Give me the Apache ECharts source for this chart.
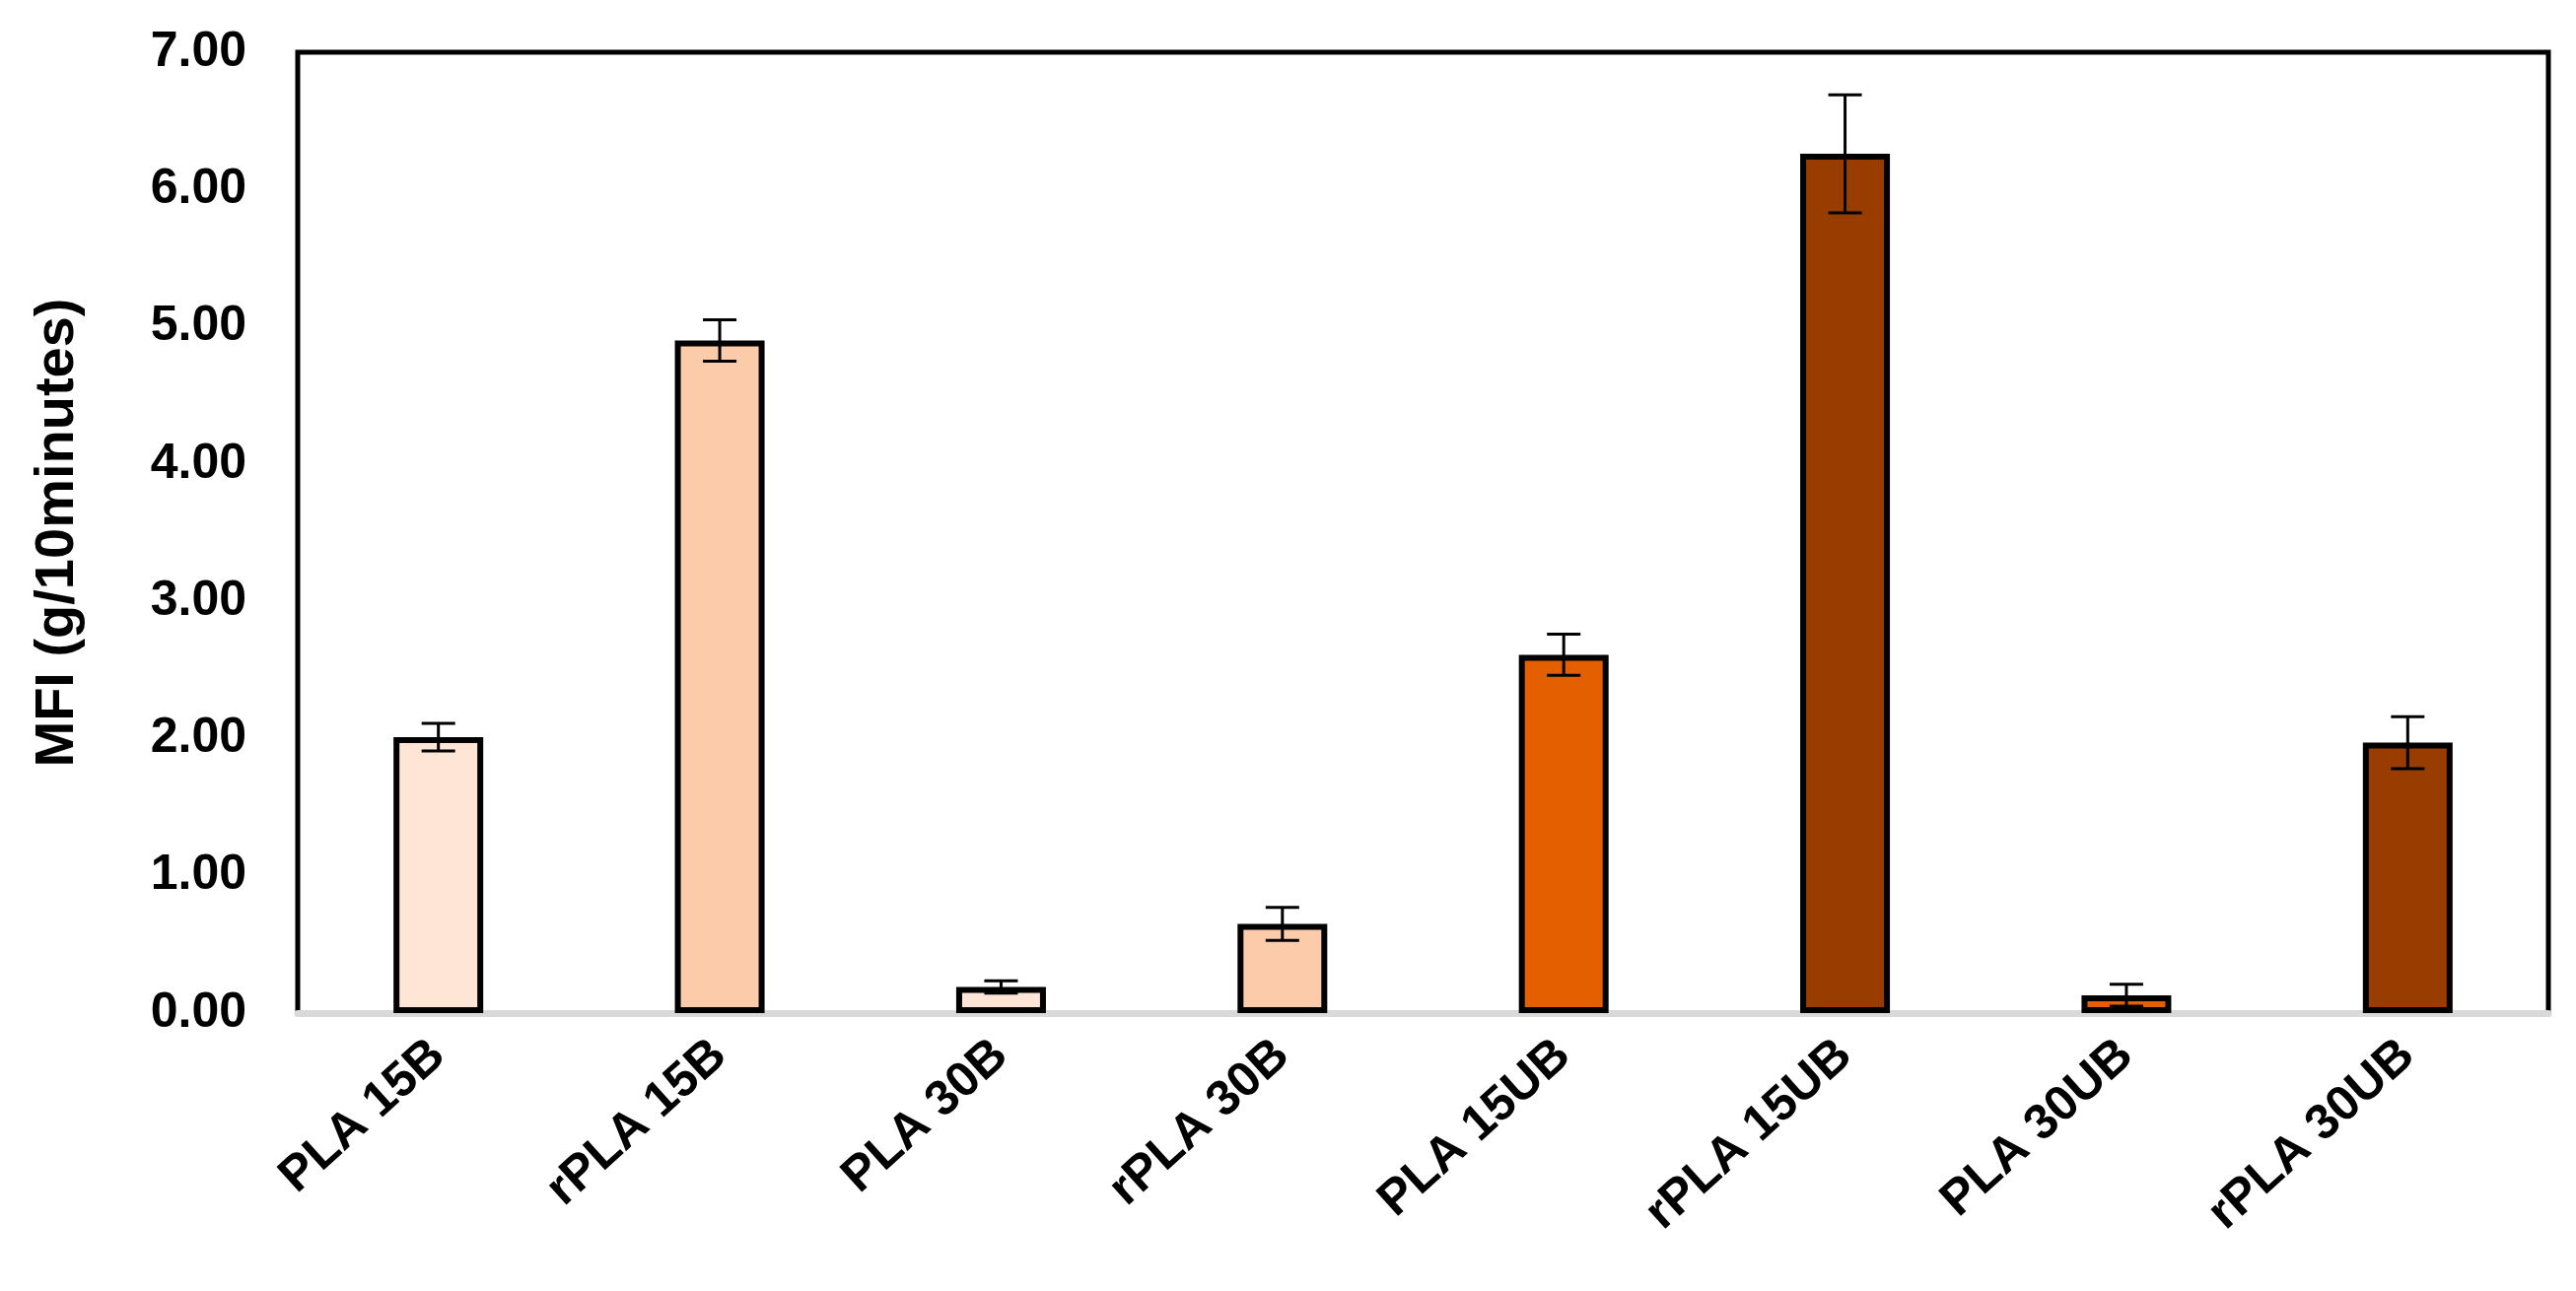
<!DOCTYPE html>
<html>
<head>
<meta charset="utf-8">
<script src="https://cdn.jsdelivr.net/npm/echarts@6/dist/echarts.min.js"></script>
<style>
html,body{margin:0;padding:0;background:#fff;}
#chart{width:2613px;height:1310px;}
</style>
</head>
<body>
<div id="chart"></div>
<script>
const categories = ['PLA 15B','rPLA 15B','PLA 30B','rPLA 30B','PLA 15UB','rPLA 15UB','PLA 30UB','rPLA 30UB'];
const values = [2.01, 4.90, 0.19, 0.65, 2.61, 6.26, 0.13, 1.97];
const errors = [0.10, 0.15, 0.045, 0.12, 0.15, 0.43, 0.08, 0.19];
const barColors = ['#FEE5D6','#FCCBA9','#FEE5D6','#FCCBA9','#E35F00','#983C00','#E35F00','#983C00'];
const yTicks = [0, 1, 2, 3, 4, 5, 6, 7];

const FONT = '"Liberation Sans", Arial, sans-serif';
const chart = echarts.init(document.getElementById('chart'));

const barData = values.map((v, i) => ({
  value: v,
  itemStyle: { color: barColors[i] }
}));
const errData = values.map((v, i) => [i, v - errors[i], v + errors[i]]);

chart.setOption({
  backgroundColor: '#fff',
  animation: false,
  grid: {
    left: 302, right: 28, top: 53, bottom: 282,
    show: true, borderColor: '#000', borderWidth: 5, backgroundColor: 'transparent'
  },
  xAxis: {
    type: 'category',
    data: categories,
    axisLine: { show: true, lineStyle: { color: '#D9D9D9', width: 7 } },
    axisTick: { show: false },
    axisLabel: {
      rotate: 42, margin: 36, color: '#000',
      fontFamily: FONT, fontWeight: 'bold', fontSize: 50
    }
  },
  yAxis: {
    type: 'value',
    min: yTicks[0], max: yTicks[yTicks.length - 1], interval: 1,
    name: 'MFI (g/10minutes)',
    nameLocation: 'middle',
    nameGap: 215,
    nameTextStyle: { fontFamily: FONT, fontWeight: 'bold', fontSize: 56, color: '#000' },
    axisLine: { show: false },
    axisTick: { show: false },
    splitLine: { show: false },
    axisLabel: {
      margin: 52, color: '#000',
      fontFamily: FONT, fontWeight: 'bold', fontSize: 50,
      formatter: v => v.toFixed(2)
    }
  },
  series: [
    {
      type: 'bar',
      data: barData,
      barWidth: 91,
      itemStyle: { borderColor: '#000', borderWidth: 6 }
    },
    {
      type: 'custom',
      data: errData,
      z: 10,
      renderItem: function (params, api) {
        const x = api.value(0);
        const lo = api.coord([x, api.value(1)]);
        const hi = api.coord([x, api.value(2)]);
        const half = 17;
        const style = { stroke: '#000', lineWidth: 3 };
        return {
          type: 'group',
          children: [
            { type: 'line', shape: { x1: hi[0], y1: hi[1], x2: lo[0], y2: lo[1] }, style },
            { type: 'line', shape: { x1: hi[0] - half, y1: hi[1], x2: hi[0] + half, y2: hi[1] }, style },
            { type: 'line', shape: { x1: lo[0] - half, y1: lo[1], x2: lo[0] + half, y2: lo[1] }, style }
          ]
        };
      }
    }
  ]
});
</script>
</body>
</html>
